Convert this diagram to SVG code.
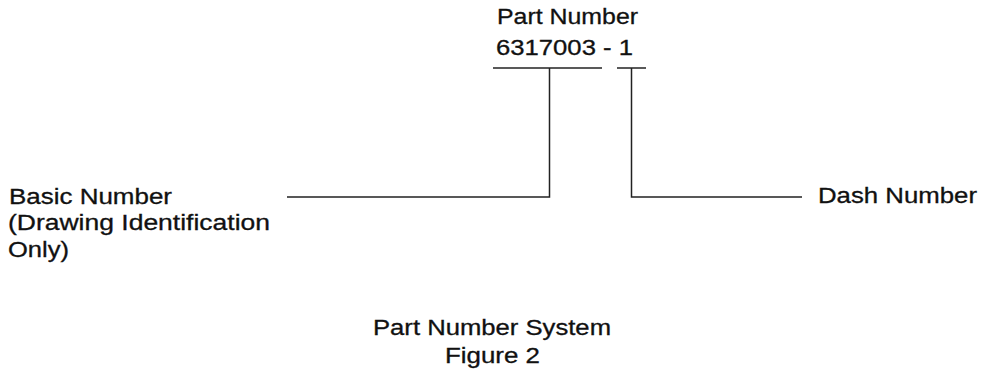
<svg xmlns="http://www.w3.org/2000/svg" width="982" height="371" viewBox="0 0 982 371">
  <style>
    text { font-family: "Liberation Sans", Arial, sans-serif; font-size: 21.5px; fill: #111; stroke: #111; stroke-width: 0.3; }
    .ln { fill: none; stroke: #222; stroke-width: 1.5; }
  </style>
  <rect width="982" height="371" fill="#fff"/>
  <g id="part-number">
    <text x="497" y="24" textLength="141" lengthAdjust="spacingAndGlyphs">Part Number</text>
    <text x="496" y="55" textLength="137" lengthAdjust="spacingAndGlyphs">6317003 - 1</text>
    <line class="ln" x1="493" y1="68" x2="602" y2="68"/>
    <line class="ln" x1="617" y1="68" x2="646" y2="68"/>
  </g>
  <g id="basic-number">
    <text x="9" y="204" textLength="163" lengthAdjust="spacingAndGlyphs">Basic Number</text>
    <text x="8" y="230" textLength="262" lengthAdjust="spacingAndGlyphs">(Drawing Identification</text>
    <text x="8" y="256.5" textLength="61" lengthAdjust="spacingAndGlyphs">Only)</text>
  </g>
  <g id="dash-number">
    <text x="818" y="203" textLength="159" lengthAdjust="spacingAndGlyphs">Dash Number</text>
  </g>
  <g id="caption">
    <text x="373" y="335" textLength="238" lengthAdjust="spacingAndGlyphs">Part Number System</text>
    <text x="445" y="363" textLength="95" lengthAdjust="spacingAndGlyphs">Figure 2</text>
  </g>
  <g id="connectors">
    <path class="ln" d="M549.5 68 V197 H287"/>
    <path class="ln" d="M631.5 68 V197 H802"/>
  </g>
</svg>
